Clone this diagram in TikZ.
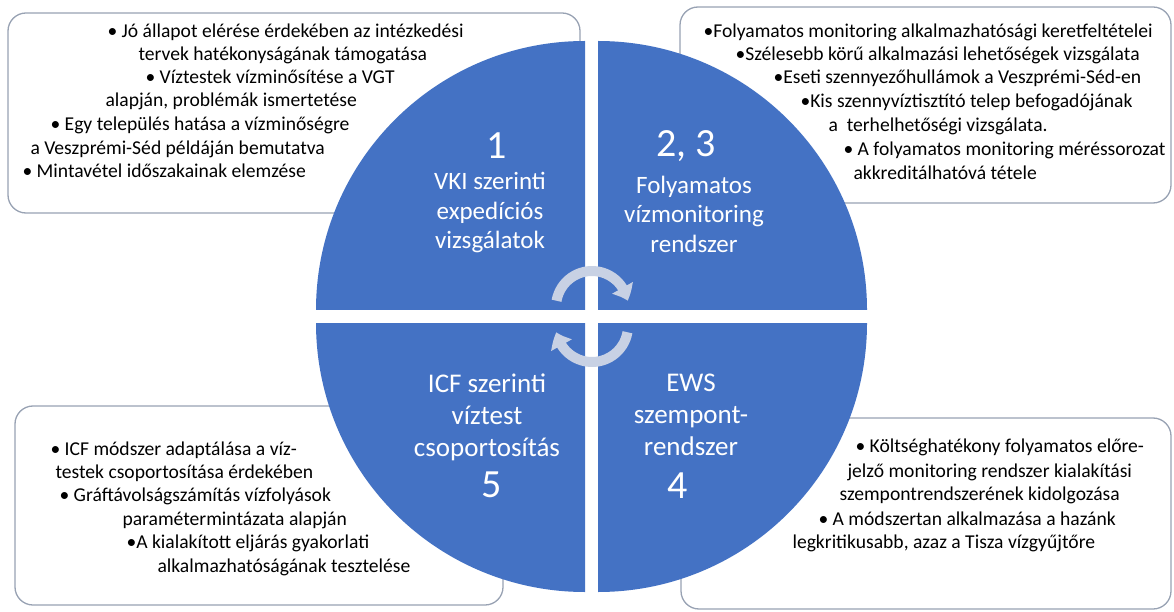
\documentclass[tikz,border=0pt]{standalone}
\usepackage{fontspec}
\setmainfont{Carlito}
\usetikzlibrary{arrows.meta,bending}

\definecolor{quadblue}{HTML}{4472C4}
\definecolor{boxgray}{HTML}{98A2B3}
\definecolor{cyclegray}{HTML}{C8D1E4}

\tikzset{
every picture/.style={
line width=1pt
}}

\begin{document}
\begin{tikzpicture}[x=1pt, y=1pt,
box/.style = {draw=boxgray, line width=1.3pt, rounded corners=18pt, fill=white},
quad/.style = {fill=quadblue},
title/.style = {text=white, align=center, font=\fontsize{25}{29.5}\selectfont},
bigtitle/.style = {title, font=\fontsize{27}{32}\selectfont},
num/.style = {text=white, font=\fontsize{40}{44}\selectfont},
item/.style = {anchor=base west, inner sep=0pt, font=\fontsize{19.6}{23}\selectfont},
turn/.style = {draw=cyclegray, line width=10pt, -{Triangle[width=23pt,length=14pt,bend]}}]

\useasboundingbox (0,0) rectangle (1174,611);

% boxes: 1 = top left, 23 = top right, 5 = bottom left, 4 = bottom right
\draw [box] (8,598) rectangle (580,398);
\draw [box] (680,604) rectangle (1171,408);
\draw [box] (15,205) rectangle (503,6);
\draw [box] (681,193) rectangle (1171,2);

% quadrants: radius 269, gap 13
\fill [quad] (585,301) -- (316,301) arc [start angle=180, end angle=90, radius=269] -- cycle;
\fill [quad] (598,301) -- (598,570) arc [start angle=90, end angle=0, radius=269] -- cycle;
\fill [quad] (585,288) -- (585,19) arc [start angle=270, end angle=180, radius=269] -- cycle;
\fill [quad] (598,288) -- (867,288) arc [start angle=0, end angle=-90, radius=269] -- cycle;

% cycle arrows in the middle
\coordinate (cyctop) at (592,304);
\coordinate (cycbot) at (592,285);
\draw [turn] (cyctop) ++(170:36) arc [start angle=170, end angle=10, radius=36];
\draw [turn] (cycbot) ++(-10:36) arc [start angle=-10, end angle=-170, radius=36];

% quadrant labels
\node [num] (n1) at (497,465) {1};
\node [title] (q1) at (490,398) {VKI szerinti\\expedíciós\\vizsgálatok};
\node [num] (n23) at (686,465) {2, 3};
\node [title] (q23) at (694,397) {Folyamatos\\vízmonitoring\\rendszer};
\node [bigtitle] (q5) at (487,194) {ICF szerinti\\víztest\\csoportosítás};
\node [num] (n5) at (492,126) {5};
\node [bigtitle] (q4) at (691,196) {EWS\\szempont-\\rendszer};
\node [num] (n4) at (678,125) {4};

% box texts, top left
\node [item] (b1a) at (107,573) {• Jó állapot elérése érdekében az intézkedési};
\node [item] (b1b) at (138,550) {tervek hatékonyságának támogatása};
\node [item] (b1c) at (145,527) {• Víztestek vízminősítése a VGT};
\node [item] (b1d) at (105,504) {alapján, problémák ismertetése};
\node [item] (b1e) at (50,480) {• Egy település hatása a vízminőségre};
\node [item] (b1f) at (30,456) {a Veszprémi-Séd példáján bemutatva};
\node [item] (b1g) at (22,433) {• Mintavétel időszakainak elemzése};

% top right
\node [item] (b23a) at (703,573) {•Folyamatos monitoring alkalmazhatósági keretfeltételei};
\node [item] (b23b) at (735,550) {•Szélesebb körű alkalmazási lehetőségek vizsgálata};
\node [item] (b23c) at (773,527) {•Eseti szennyezőhullámok a Veszprémi-Séd-en};
\node [item] (b23d) at (800,503) {•Kis szennyvíztisztító telep befogadójának};
\node [item] (b23e) at (828,479) {a~ terhelhetőségi vizsgálata.};
\node [item] (b23f) at (843,455) {• A folyamatos monitoring méréssorozat};
\node [item] (b23g) at (853,431) {akkreditálhatóvá tétele};

% bottom left
\node [item] (b5a) at (50,156) {• ICF módszer adaptálása a víz-};
\node [item] (b5b) at (55,133) {testek csoportosítása érdekében};
\node [item] (b5c) at (59,110) {• Gráftávolságszámítás vízfolyások};
\node [item] (b5d) at (122,86) {paramétermintázata alapján};
\node [item] (b5e) at (126,63) {•A kialakított eljárás gyakorlati};
\node [item] (b5f) at (157,39) {alkalmazhatóságának tesztelése};

% bottom right
\node [item] (b4a) at (855,159) {• Költséghatékony folyamatos előre-};
\node [item] (b4b) at (847,134) {jelző monitoring rendszer kialakítási};
\node [item] (b4c) at (839,111) {szempontrendszerének kidolgozása};
\node [item] (b4d) at (818,86) {• A módszertan alkalmazása a hazánk};
\node [item] (b4e) at (792,63) {legkritikusabb, azaz a Tisza vízgyűjtőre};

\end{tikzpicture}
\end{document}
